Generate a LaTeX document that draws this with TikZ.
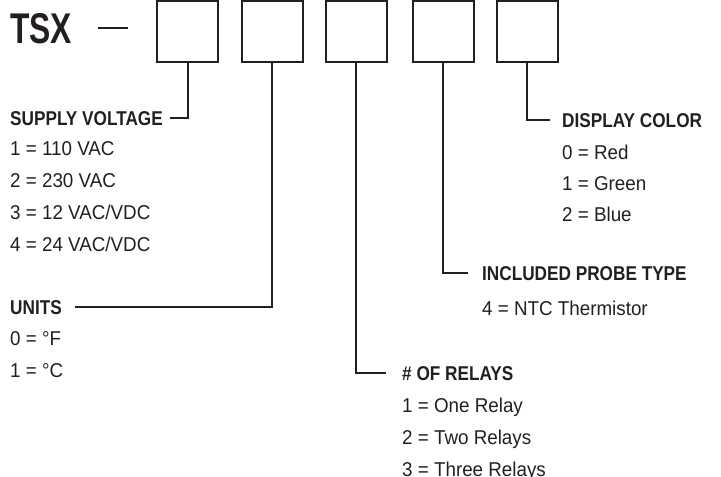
\documentclass[tikz,border=0pt]{standalone}
\usepackage{fontspec}
\setmainfont{Liberation Sans}[FakeStretch=0.94]
\newfontfamily\headfont{Liberation Sans}[FakeStretch=0.86]
\newfontfamily\tsxfont{Liberation Sans}[FakeStretch=0.74]
\definecolor{ink}{HTML}{231F20}
\begin{document}
\begin{tikzpicture}[x=1pt,y=-1pt,
  codebox/.style={draw=ink,line width=2pt,minimum width=61pt,minimum height=61pt,inner sep=0pt},
  conn/.style={draw=ink,line width=2pt},
  head/.style={anchor=base west,inner sep=0pt,text=ink,font=\fontsize{20}{24}\selectfont\headfont\bfseries},
  item/.style={anchor=base west,inner sep=0pt,text=ink,font=\fontsize{20}{24}\selectfont}]
\useasboundingbox (0,0) rectangle (721,477);
\node[anchor=base west,inner sep=0pt,text=ink,font=\fontsize{43}{48}\selectfont\tsxfont\bfseries] (tsx) at (10,43) {TSX};
\coordinate (d1) at (98,28);
\coordinate (d2) at (128,28);
\draw[conn] (d1) -- (d2);
\node[codebox] (b1) at (187.5,31.5) {};
\node[codebox] (b2) at (272,31.5) {};
\node[codebox] (b3) at (356,31.5) {};
\node[codebox] (b4) at (443,31.5) {};
\node[codebox] (b5) at (527,31.5) {};
% supply voltage
\node[head] (sv) at (10,125) {SUPPLY VOLTAGE};
\node[item] (sv1) at (10,155) {1 = 110 VAC};
\node[item] (sv2) at (10,187) {2 = 230 VAC};
\node[item] (sv3) at (10,219) {3 = 12 VAC/VDC};
\node[item] (sv4) at (10,251) {4 = 24 VAC/VDC};
\coordinate (svend) at (170,118);
\draw[conn] (b1.south) |- (svend);
% units
\node[head] (un) at (10,314) {UNITS};
\node[item] (un0) at (10,345) {0 = °F};
\node[item] (un1) at (10,377) {1 = °C};
\coordinate (unend) at (75,307);
\draw[conn] (b2.south) |- (unend);
% relays
\node[head] (re) at (402,380) {\# OF RELAYS};
\node[item] (re1) at (402,412) {1 = One Relay};
\node[item] (re2) at (402,444) {2 = Two Relays};
\node[item] (re3) at (402,476) {3 = Three Relays};
\coordinate (reend) at (386,373);
\draw[conn] (b3.south) |- (reend);
% probe
\node[head] (pr) at (482,280) {INCLUDED PROBE TYPE};
\node[item] (pr4) at (482,315) {4 = NTC Thermistor};
\coordinate (prend) at (468,273);
\draw[conn] (b4.south) |- (prend);
% display color
\node[head] (dc) at (562,127) {DISPLAY COLOR};
\node[item] (dc0) at (562,159) {0 = Red};
\node[item] (dc1) at (562,190) {1 = Green};
\node[item] (dc2) at (562,221) {2 = Blue};
\coordinate (dcend) at (550,120);
\draw[conn] (b5.south) |- (dcend);
\end{tikzpicture}
\end{document}
